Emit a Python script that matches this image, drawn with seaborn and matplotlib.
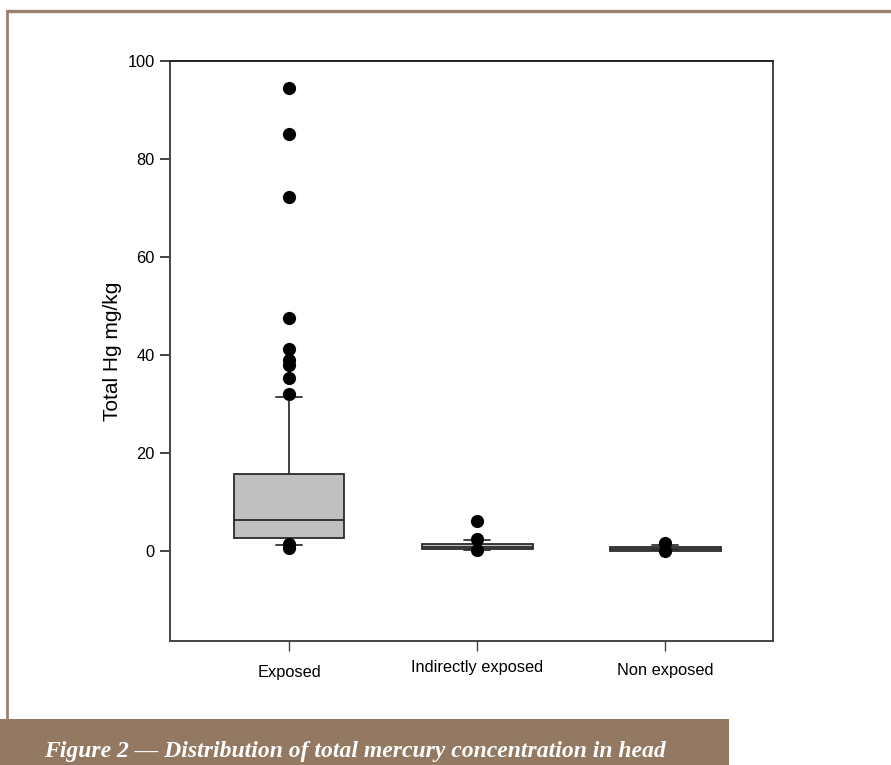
import matplotlib
matplotlib.use("Agg")
import matplotlib.pyplot as plt
import matplotlib.transforms as mtransforms
from matplotlib.lines import Line2D
from matplotlib.patches import Rectangle
import seaborn as sns
import pandas as pd

# ---- data ----
categories = ["Exposed", "Indirectly exposed", "Non exposed"]
q1 = [2.7, 0.3, 0.05]
median = [6.4, 0.8, 0.3]
q3 = [15.6, 1.4, 0.75]
whisker_low = [1.2, 0.2, 0.1]
whisker_high = [31.5, 2.2, 1.15]
outliers_exposed = [94.5, 85.0, 72.3, 47.6, 41.2, 39.0, 38.0, 35.3, 32.0, 1.5, 0.5]
outliers_indirect = [6.1, 2.5, 0.1]
outliers_non = [1.55, 0.0]
y_ticks = [0, 20, 40, 60, 80, 100]
y_label = "Total Hg mg/kg"
caption = "Figure 2 \u2014 Distribution of total mercury concentration in head"

sns.set_style("ticks")
plt.rcParams["font.family"] = ["Liberation Sans", "DejaVu Sans"]
plt.rcParams["text.color"] = "black"
plt.rcParams["axes.labelcolor"] = "black"

W, H = 891, 765
fig = plt.figure(figsize=(W / 100, H / 100), dpi=100)
ax = fig.add_axes([170 / W, 1 - 641 / H, (773 - 170) / W, (641 - 61) / H])

stats = []
for i, c in enumerate(categories):
    stats.append(dict(label=c, q1=q1[i], med=median[i], q3=q3[i],
                      whislo=whisker_low[i], whishi=whisker_high[i], fliers=[]))

edge = "#2a2a2a"
ax.bxp(stats, positions=range(len(categories)), widths=0.59, patch_artist=True,
       showfliers=False,
       boxprops=dict(facecolor="#c0c0c0", edgecolor=edge, linewidth=1.3),
       medianprops=dict(color=edge, linewidth=1.3),
       whiskerprops=dict(color="#333333", linewidth=1.3),
       capprops=dict(color="#333333", linewidth=1.3),
       capwidths=0.14, zorder=2)

out_df = pd.DataFrame({
    "group": [categories[0]] * len(outliers_exposed)
             + [categories[1]] * len(outliers_indirect)
             + [categories[2]] * len(outliers_non),
    "value": outliers_exposed + outliers_indirect + outliers_non,
})
sns.stripplot(data=out_df, x="group", y="value", order=categories, jitter=False,
              color="black", size=9.5, linewidth=0, ax=ax, zorder=3)

ax.set_xlim(-0.633, 2.574)
ax.set_ylim(-18.4, 100)
ax.set_yticks(y_ticks)
ax.set_yticklabels([str(t) for t in y_ticks])
ax.set_xticks(range(len(categories)))
ax.set_xticklabels(categories)
ax.set_xlabel("")
ax.set_ylabel(y_label, fontsize=15, labelpad=4, color="black")

for s in ax.spines.values():
    s.set_visible(True)
    s.set_color("#444444")
    s.set_linewidth(1.4)
ax.spines["top"].set_color("#222222")

ax.tick_params(axis="y", direction="out", length=7, width=1.2, pad=4,
               labelsize=11.8, colors="#222222", labelcolor="black")
ax.tick_params(axis="x", direction="out", length=7, width=1.0, pad=10,
               labelsize=11.8, colors="#444444", labelcolor="black")
ax.tick_params(top=False, right=False)

# small per-label vertical offsets as in the reference
offs = [0, 5, 2]
for lab, o in zip(ax.get_xticklabels(), offs):
    lab.set_transform(lab.get_transform() + mtransforms.ScaledTranslation(0, o / 100, fig.dpi_scale_trans))

# decorative frame and caption bar
brown = "#9c8170"
fig.add_artist(Line2D([7 / W, 1.0], [1 - 11 / H, 1 - 11 / H], color=brown, linewidth=2.4))
fig.add_artist(Line2D([7 / W, 7 / W], [1 - 11 / H, 1 - 719 / H], color=brown, linewidth=2.0))
fig.add_artist(Rectangle((0, 0), 729 / W, (H - 719) / H, facecolor="#937862",
                         edgecolor="none", transform=fig.transFigure))
fig.text(44 / W, 1 - 757 / H, caption, color="white", fontsize=17,
         family=["Liberation Serif", "DejaVu Serif"], style="italic", weight="bold",
         va="baseline", ha="left")

fig.savefig("out.png", dpi=100)
